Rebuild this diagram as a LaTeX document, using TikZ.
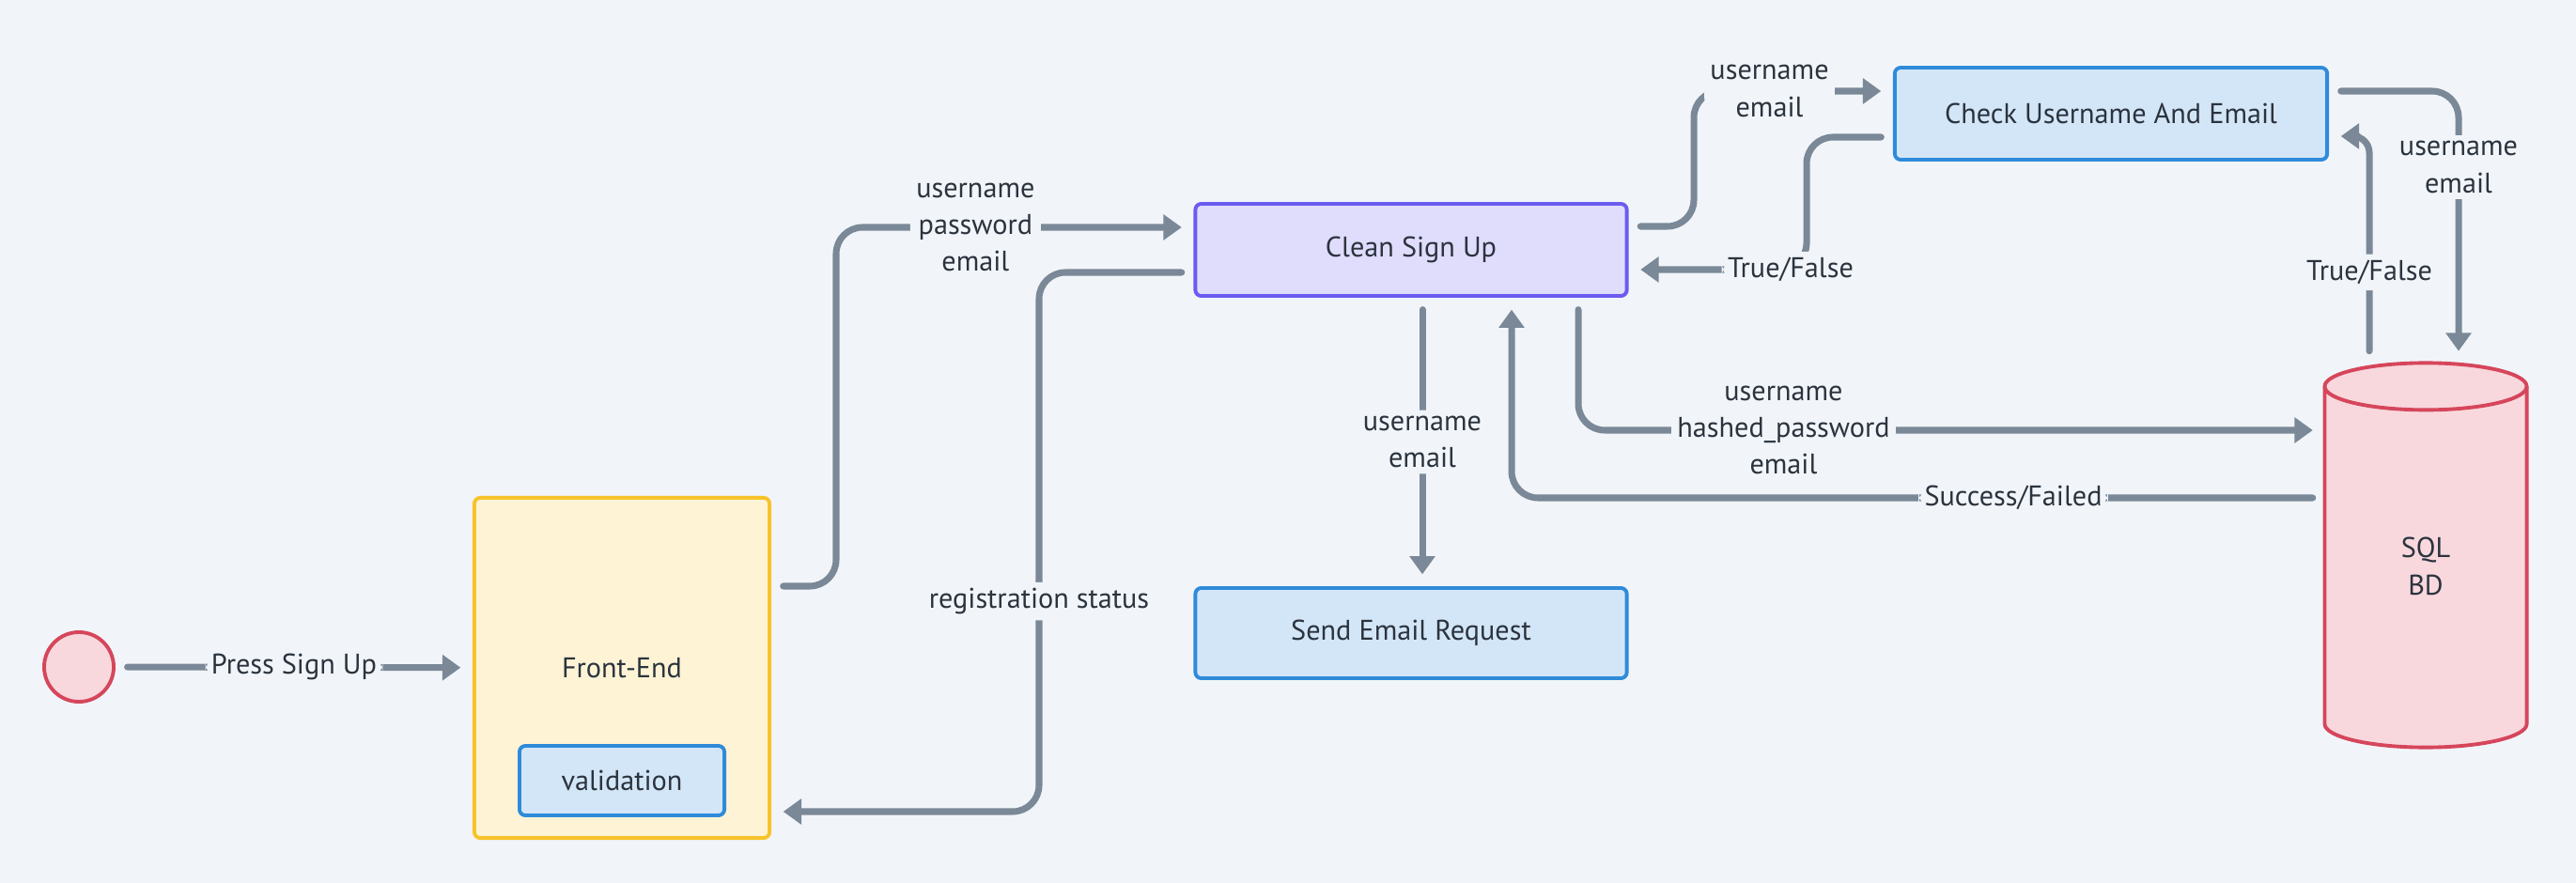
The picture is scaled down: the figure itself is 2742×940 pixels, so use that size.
\documentclass[tikz,border=0pt]{standalone}
\usepackage{fontspec}
\setmainfont{PT Sans}
\usetikzlibrary{arrows.meta,shapes.geometric,calc,positioning}

\definecolor{bg}{HTML}{F1F5F9}
\definecolor{wire}{HTML}{7A8897}
\definecolor{ink}{HTML}{2B333E}
\definecolor{yellowfill}{HTML}{FEF4D5}
\definecolor{yellowline}{HTML}{F8C329}
\definecolor{bluefill}{HTML}{D3E6F7}
\definecolor{blueline}{HTML}{2F8BDA}
\definecolor{purplefill}{HTML}{E0DCFC}
\definecolor{purpleline}{HTML}{6B5BF0}
\definecolor{pinkfill}{HTML}{F8D8DD}
\definecolor{pinkline}{HTML}{D6465B}

\begin{document}
\begin{tikzpicture}[x=0.01cm, y=-0.01cm,
  every node/.style={font=\fontsize{8.6}{11.2}\selectfont, text=ink},
  box/.style={draw=#1line, fill=#1fill, line width=1.1pt, rounded corners=1.8pt, inner sep=0pt},
  flow/.style={draw=wire, line width=2pt, line cap=round, rounded corners=8pt,
    shorten <=3.6pt, shorten >=3.6pt, -{Triangle[length=5.5pt,width=7.5pt]}},
  lbl/.style={fill=bg, inner sep=1.8pt, align=center},
  rim/.style={x radius=1.075cm, y radius=0.25cm}]

  \fill[bg] (0,0) rectangle (2742,940);
  \useasboundingbox (0,0) rectangle (2742,940);

  % blocks
  \node[circle, box=pink, minimum size=0.74cm] (start) at (84,710) {};
  \node[box=yellow, minimum width=3.14cm, minimum height=3.62cm] (fe) at (662,711) {Front-End};
  \node[box=blue, minimum width=2.18cm, minimum height=0.74cm] (valid) at (662,831) {validation};
  \node[box=purple, minimum width=4.59cm, minimum height=0.98cm] (clean) at (1502,266) {Clean Sign Up};
  \node[box=blue, minimum width=4.6cm, minimum height=0.98cm] (check) at (2247,121) {Check Username And Email};
  \node[box=blue, minimum width=4.59cm, minimum height=0.96cm] (send) at (1502,674) {Send Email Request};

  % database cylinder
  \node[inner sep=0pt, outer sep=0pt, minimum width=2.15cm, minimum height=4.09cm] (db) at (2582,591) {};
  \path[draw=pinkline, fill=pinkfill, line width=1.1pt]
    ($(db.north west)+(0,25)$) -- ($(db.south west)+(0,-25)$) arc[start angle=180, end angle=360, rim]
    -- ($(db.north east)+(0,25)$) arc[start angle=0, end angle=180, rim] -- cycle;
  \draw[pinkline, line width=1.1pt] ($(db.north west)+(0,25)$) arc[start angle=180, end angle=360, rim];
  \node[align=center] (dbtext) at (2582,603) {SQL\\BD};

  % connectors
  \draw[flow] (start) -- node[lbl]{Press Sign Up} (fe);
  \draw[flow] ($(fe.east)+(0,-87)$) -- (890,624) -- (890,242)
    -- node[lbl, pos=0.39]{username\\password\\email} ($(clean.west)+(0,-24)$);
  \draw[flow] ($(clean.west)+(0,24)$) -- (1106,290)
    -- node[lbl, pos=0.61]{registration status} (1106,864) -- ($(fe.east)+(0,153)$);
  \draw[flow] ($(clean.south)+(12,0)$) -- node[lbl]{username\\email} ($(send.north)+(12,0)$);
  \draw[flow] ($(clean.east)+(0,-25)$) -- (1803,241) -- (1803,97)
    -- node[lbl, pos=0.38]{username\\email} ($(check.west)+(0,-24)$);
  \draw[flow] ($(check.west)+(0,25)$) -- (1923,146) -- (1923,287)
    -- node[lbl, pos=0.09]{True/False} ($(clean.east)+(0,21)$);
  \draw[flow] ($(check.east)+(0,-24)$) -- (2617,97)
    -- node[lbl, pos=0.28]{username\\email} ($(db.north)+(35,0)$);
  \draw[flow, rounded corners=5pt] ($(db.north)+(-60,0)$) -- node[lbl, pos=0.4]{True/False} (2522,145)
    -- ($(check.east)+(0,24)$);
  \draw[flow] ($(clean.south)+(178,0)$) -- (1680,458)
    -- node[lbl, pos=0.275]{username\\hashed\_password\\email} (db.west |- 0,458);
  \draw[flow] (db.west |- 0,530) -- node[lbl, pos=0.383]{Success/Failed} (1609,530)
    -- ($(clean.south)+(107,0)$);
\end{tikzpicture}
\end{document}
